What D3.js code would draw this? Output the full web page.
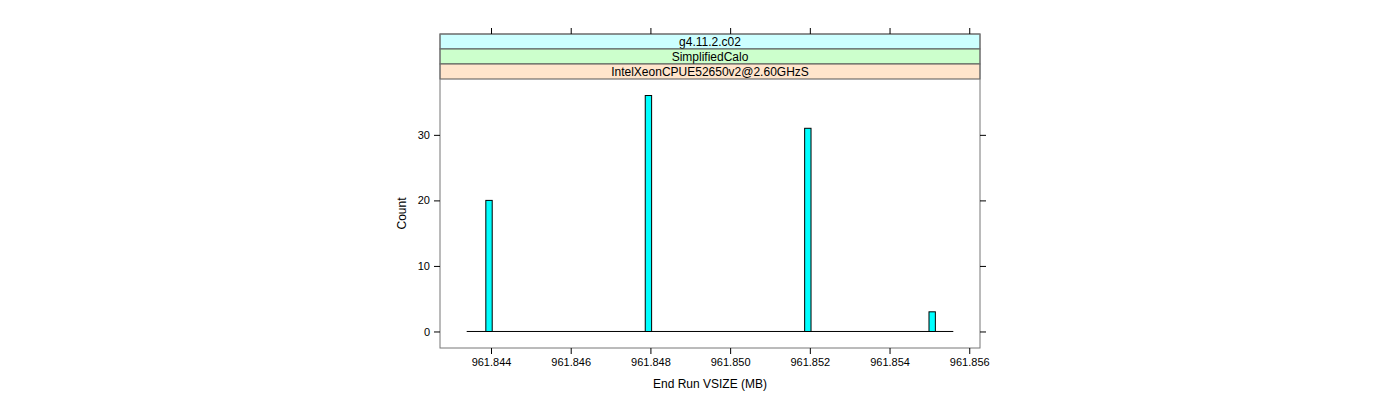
<!DOCTYPE html>
<html><head><meta charset="utf-8">
<script src="https://cdn.jsdelivr.net/npm/d3@7"></script>
<style>body{margin:0;background:#fff;} text{font-family:"Liberation Sans",Arial,sans-serif;}</style>
</head><body>
<svg id="c" width="1400" height="400"></svg>
<script>
// Data
const binStarts = [961.84387, 961.84787, 961.85187, 961.85499];
const counts = [20, 36, 31, 3];
const binWidth = 0.00016;
const breaksRange = [961.84339, 961.85560];
const xTicks = [961.844, 961.846, 961.848, 961.850, 961.852, 961.854, 961.856];
const yTicks = [0, 10, 20, 30];
const strips = ["g4.11.2.c02", "SimplifiedCalo", "IntelXeonCPUE52650v2@2.60GHzS"];
const stripColors = ["#CCFFFF", "#CCFFCC", "#FFE5CC"];

(function () {
const svg = d3.select("#c");
const L = 440, R = 980, T = 34, B = 348, stripH = 15;
const plotTop = T + stripH * strips.length;

const x = d3.scaleLinear().domain([961.84272, 961.85627]).range([L, R]);
const y = d3.scaleLinear().domain([-2.52, 38.52]).range([B, plotTop]);

// strips
strips.forEach((s, i) => {
  svg.append("rect").attr("x", L).attr("y", T + i * stripH).attr("width", R - L).attr("height", stripH)
    .attr("fill", stripColors[i]).attr("stroke", "#555").attr("stroke-width", 1);
  svg.append("text").attr("x", (L + R) / 2).attr("y", T + i * stripH + 11.5).attr("text-anchor", "middle")
    .attr("font-size", 12).text(s);
});

// baseline (zero-count bins)
svg.append("line").attr("x1", x(breaksRange[0])).attr("x2", x(breaksRange[1]))
  .attr("y1", y(0)).attr("y2", y(0)).attr("stroke", "#000").attr("stroke-width", 1);

// bars
svg.selectAll("rect.bar").data(binStarts).enter().append("rect").attr("class", "bar")
  .attr("x", d => x(d)).attr("width", d => x(d + binWidth) - x(d))
  .attr("y", (d, i) => y(counts[i])).attr("height", (d, i) => y(0) - y(counts[i]))
  .attr("fill", "#00FFFF").attr("stroke", "#000").attr("stroke-width", 1);

// panel border
svg.append("rect").attr("x", L).attr("y", T).attr("width", R - L).attr("height", B - T)
  .attr("fill", "none").attr("stroke", "#777").attr("stroke-width", 1);

// axes
const fmt = d3.format(".3f");
const gB = svg.append("g").attr("transform", `translate(0,${B})`)
  .call(d3.axisBottom(x).tickValues(xTicks).tickFormat(fmt).tickSize(6).tickSizeOuter(0));
const gT = svg.append("g").attr("transform", `translate(0,${T})`)
  .call(d3.axisTop(x).tickValues(xTicks).tickFormat("").tickSize(6).tickSizeOuter(0));
const gL = svg.append("g").attr("transform", `translate(${L},0)`)
  .call(d3.axisLeft(y).tickValues(yTicks).tickSize(6).tickSizeOuter(0));
const gR = svg.append("g").attr("transform", `translate(${R},0)`)
  .call(d3.axisRight(y).tickValues(yTicks).tickFormat("").tickSize(6).tickSizeOuter(0));
[gB, gT, gL, gR].forEach(g => {
  g.select(".domain").remove();
  g.selectAll("line").attr("stroke", "#000");
  g.selectAll("text").attr("font-size", 11).attr("fill", "#000").attr("font-family", "Liberation Sans, Arial, sans-serif");
});
gB.selectAll("text").attr("dy", "0.71em").attr("y", 10);
gL.selectAll("text").attr("x", -10);

// titles
svg.append("text").attr("x", (L + R) / 2).attr("y", 388).attr("text-anchor", "middle").attr("font-size", 12).text("End Run VSIZE (MB)");
svg.append("text").attr("transform", `translate(406,${(plotTop + B) / 2}) rotate(-90)`).attr("text-anchor", "middle")
  .attr("font-size", 12).text("Count");
})();
</script>
</body></html>
